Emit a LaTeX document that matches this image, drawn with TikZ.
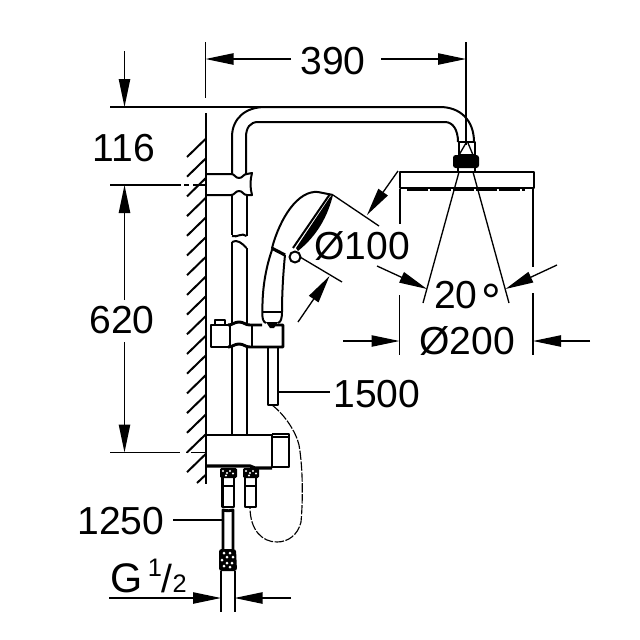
\documentclass[tikz,border=0pt]{standalone}
\usepackage{fontspec}
\setmainfont{Liberation Sans}
\usetikzlibrary{arrows.meta}
\begin{document}
\begin{tikzpicture}[x=0.75pt,y=-0.75pt]
    \tikzstyle{dimline} = [line width=1pt, -{Triangle[length=21pt,width=8.5pt]}]
    \tikzstyle{thinline} = [line width=1pt]
    \tikzstyle{part} = [line width=1.5pt, line join=round]
    \tikzstyle{thick part} = [line width=2.2pt, line join=round]
    \tikzstyle{dimtext} = [inner sep=0pt, font=\fontsize{29.3}{30}\selectfont]
    \tikzstyle{hosedash} = [line width=0.85pt, dash pattern=on 7pt off 1.2pt]

    \useasboundingbox (0,0) rectangle (640,640);

    % wall
    \draw [part] (205.5,113) -- (205.5,484);
    \foreach \y in {157,176.7,196.4,216.1,235.8,255.5,275.2,294.9,314.6,334.3,354,373.7,393.4,413.1,432.8,452.5,472.2}
      \draw [part] (187,\y) -- ++(18.5,-18);
    \draw [part] (197,483) -- (205.5,475);

    % extension lines
    \draw [thinline] (205.5,42) -- (205.5,98);
    \draw [thinline] (110,107) -- (265,107);
    \draw [thinline] (466,42) -- (466,145);
    \draw [thinline] (110,185) -- (181,185);
    \draw [thinline] (184,185) -- (189,185);
    \draw [thinline] (193,185) -- (205,185);
    \draw [thinline] (110,452.5) -- (180,452.5);
    \draw [thinline] (186,452.5) -- (188,452.5);
    \draw [thinline] (191,452.5) -- (205,452.5);
    \draw [thinline] (400,189) -- (400,224);
    \draw [thinline] (533,189) -- (533,267);
    \draw [thinline] (399.5,295) -- (399.5,355);
    \draw [thinline] (533,293) -- (533,355);

    % arm and riser
    \draw [part] (232,174) -- (232,137) .. controls (232,118) and (246,107) .. (265,107)
      -- (440,107) .. controls (460,107) and (474,120) .. (474,142);
    \draw [part] (246,174) -- (246,137) .. controls (246,128) and (250,122) .. (258,122)
      -- (445,122) .. controls (453,122) and (458,130) .. (458,142);
    \draw [part] (232,195) -- (232,235);
    \draw [part] (246.5,195) -- (246.5,236);
    \draw [part] (232,236) .. controls (237,238) and (242,232) .. (246.5,236);
    \draw [part] (232,242) .. controls (237,239) and (242,243) .. (246.5,248);
    \draw [part] (232,242) -- (232,325);
    \draw [part] (246.5,248) -- (246.5,325);
    \draw [part] (232,347) -- (232,436);
    \draw [part] (246.5,347) -- (246.5,436);

    % upper bracket
    \draw [part] (206,174) -- (231,174) .. controls (235,174) and (235,178) .. (239,178)
      .. controls (243,178) and (243,174) .. (247,174) -- (252,173)
      .. controls (250,180) and (250,188) .. (252,195) -- (247,195)
      .. controls (243,195) and (243,191) .. (239,191)
      .. controls (235,191) and (235,195) .. (231,195) -- (206,195);

    % middle bracket
    \draw [thick part] (228,347) -- (211,347) -- (211,325) -- (228,325);
    \draw [part] (215,324) -- (215,320) -- (225,320) -- (225,324);
    \draw [part] (230,325) -- (230,347);
    \draw [part] (252,325) -- (252,347);
    \draw [thick part] (228,325) .. controls (233,325) and (234,322) .. (239,322)
      .. controls (244,322) and (245,325) .. (250,325) -- (262,325);
    \draw [thick part] (228,347) .. controls (233,347) and (234,344) .. (239,344)
      .. controls (244,344) and (245,347) .. (250,347) -- (283,347) -- (283,325) -- (275,325);
    % hose stub
    \draw [part] (268,347) -- (268,405) -- (278,405) -- (278,347);

    % hand shower
    \draw [part] (272,248) .. controls (280,218) and (298,190) .. (318,192) -- (333,195);
    \draw [part] (272,250) .. controls (265,270) and (262,292) .. (262.5,312)
      .. controls (262,318) and (263,322) .. (266,323);
    \draw [part] (285,255) .. controls (283,275) and (282,295) .. (282,312)
      .. controls (282,318) and (281,322) .. (278,323);
    \draw [line width=2.4pt] (271.5,248) -- (285,255);
    \draw [line width=2pt] (262.5,312) -- (282,312);
    \fill (266,322) -- (278,322) -- (274,328) -- (270,328) -- cycle;
    \draw [part] (330,194) -- (293,248);
    \fill (333,195) .. controls (328,215) and (318,235) .. (298,251) -- (296,248)
      -- (330,197) -- cycle;
    \draw [part, fill=white] (295,257) circle (5.5);

    % lower block
    \draw [part] (206,435) -- (272,435);
    \draw [part] (272,434) -- (288.5,434) -- (288.5,467) -- (271.5,467) -- (271.5,434);
    \draw [thinline] (272,437) -- (288,437);
    \draw [line width=2.4pt] (207,466) -- (250,466) -- (255,468) -- (272,468);

    % fittings
    \foreach \xa/\xb in {220/237,243/259} {
      \fill [rounded corners=1pt] (\xa,468) rectangle (\xb,478);
      \foreach \dx/\dy in {3/3,7/5,10/3,13/5.5,6/7.5}
        \fill [white] (\xa+\dx,468+\dy) circle (1.2);
    }
    \draw [thick part] (222.5,477) -- (222.5,507) -- (234,507) -- (234,477);
    \draw [thick part] (245,477) -- (245,507) -- (256,507) -- (256,477);
    \draw [line width=2pt] (222.5,486) -- (234,486);
    \draw [line width=2pt] (245,486) -- (256,486);

    % lower hose and nut
    \draw [thick part] (223,549) -- (223,510) .. controls (227,511) and (230,511) .. (233,510) -- (233,549);
    \fill [rounded corners=2pt] (219,549) -- (236,549) -- (237,571) -- (219,571) -- cycle;
    \foreach \dx/\dy in {5/4,11/4,8/8,14/8,3/11,8/14,13/14,5/17,11/18}
      \fill [white] (219+\dx,549+\dy) circle (1.5);
    \draw [part] (221,571) -- (221,612);
    \draw [part] (234.5,571) -- (234.5,612);

    % hose
    \draw [hosedash] (272,405) .. controls (285,415) and (296,432) .. (299,445)
      .. controls (303,468) and (303,500) .. (301,522)
      .. controls (298,535) and (288,542) .. (277,542)
      .. controls (262,542) and (250,530) .. (250,507);

    % shower head
    \draw [part] (459,142) rectangle (475,155);
    \draw [thinline] (466,143) -- (459,155);
    \draw [thinline] (468,143) -- (473,155);
    \fill [rounded corners=2pt] (453,155) rectangle (479,168);
    \draw [part] (458,168) -- (458,172);
    \draw [part] (475,168) -- (475,172);
    \draw [part] (399.5,172) rectangle (534,188);
    \draw [line width=2.2pt, dash pattern=on 16pt off 1.2pt] (407,190) -- (525,190);

    % spray lines
    \draw [thinline] (459,172) -- (423,303);
    \draw [thinline] (473,172) -- (509,303);

    % hand shower diameter
    \draw [thinline] (333,195) -- (379,226);
    \draw [thinline] (300,257) -- (342,282);
    \draw [dimline] (398,171) -- (367,215);
    \draw [dimline] (298,322) -- (329.5,276);

    % dimensions
    \draw [dimline] (291,59) -- (205.5,59);
    \draw [dimline] (381,59) -- (466,59);
    \draw [dimline] (124.5,51) -- (124.5,107);
    \draw [dimline] (124.5,300) -- (124.5,185);
    \draw [dimline] (124.5,342) -- (124.5,452.5);
    \draw [dimline] (377,266) -- (427,289);
    \draw [dimline] (557,265) -- (505.5,289);
    \draw [dimline] (343,341) -- (399.5,341);
    \draw [dimline] (590,341) -- (533,341);
    \draw [dimline] (109,598) -- (221,598);
    \draw [dimline] (291,598) -- (234.5,598);
    \draw [thinline] (278,392) -- (330,392);
    \draw [thinline] (173,520) -- (223,520);

    % labels
    \node [dimtext] (width)    at (333,61)  {390};
    \node [dimtext] (drop)     at (124,148) {116};
    \node [dimtext] (rail)     at (122,320) {620};
    \node [dimtext] (hand)     at (362,246) {Ø100};
    \node [dimtext, anchor=base west] (spray) at (434,308)
      {20\hspace{2.5pt}\raisebox{-8pt}{\fontsize{37}{38}\selectfont °}};
    \node [dimtext] (head)     at (467,341) {Ø200};
    \node [dimtext] (hose)     at (377,394) {1500};
    \node [dimtext] (supply)   at (121,521) {1250};
    \node [dimtext, anchor=base west] (thread) at (110,592)
      {{\fontsize{31}{32}\selectfont G}\hspace{4pt}\raisebox{12pt}{\fontsize{19}{20}\selectfont 1}/{\fontsize{19}{20}\selectfont 2}};
  \end{tikzpicture}
\end{document}
